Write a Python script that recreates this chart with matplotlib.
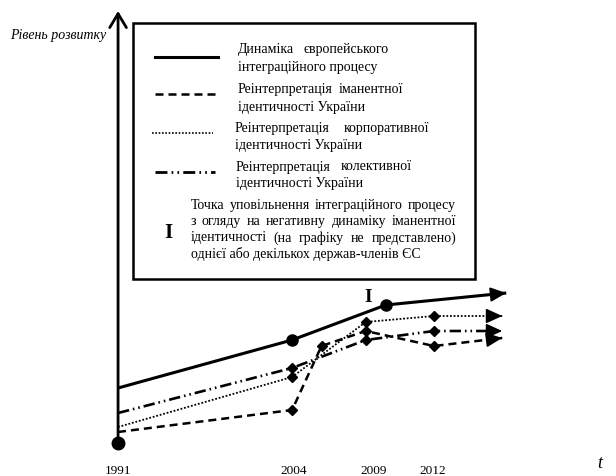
import matplotlib
matplotlib.use('Agg')
import matplotlib.pyplot as plt
from matplotlib.lines import Line2D
from matplotlib.patches import Rectangle

plt.rcParams['font.family'] = ['Liberation Serif', 'DejaVu Serif']

W, H = 616, 477

# time in conventional units (1991 = 0), level in conventional units
tick_pos = [0, 13.1, 19.1, 23.5]
tick_labels = ['1991', '2004', '2009', '2012']

eu_t = [0, 13.0, 20.0, 29.0]
eu_v = [5.5, 10.3, 13.8, 15.0]

imm_t = [0, 13.0, 15.2, 18.5, 23.6, 28.7]
imm_v = [1.1, 3.3, 9.7, 11.2, 9.7, 10.5]

corp_t = [0, 13.0, 18.5, 23.6, 28.7]
corp_v = [1.6, 6.6, 12.1, 12.7, 12.7]

coll_t = [0, 13.0, 18.5, 23.6, 28.7]
coll_v = [3.0, 7.5, 10.3, 11.2, 11.2]

slow_t, slow_v = 18.7, 14.6   # position of the "I" mark

fig = plt.figure(figsize=(W / 100, H / 100), dpi=100)
ax = fig.add_axes([0, 0, 1, 1])
ax.set_xlim(-8.82, 37.2)
ax.set_ylim(-3.3, 44.4)
ax.axis('off')

dash = (0, (3.2, 2.0))
dotted = (0, (1, 1))
dashdot = (0, (4.3, 1.5, 0.6, 1.5, 0.6, 1.5))

styles = [
    (eu_t, eu_v, '-', 2.2, 'o', 8),
    (imm_t, imm_v, dash, 1.8, 'D', 5.5),
    (corp_t, corp_v, dotted, 1.3, 'D', 5.5),
    (coll_t, coll_v, dashdot, 1.9, 'D', 5.5),
]
for t, v, ls, lw, mk, ms in styles:
    ax.plot(t, v, color='black', linestyle=ls, lw=lw, marker=mk, ms=ms,
            markevery=slice(1, -1), solid_capstyle='butt')
    # arrow head at the end of each line
    dt, dv = t[-1] - t[-2], v[-1] - v[-2]
    k = 1.0 / (dt ** 2 + (dv * 1.338) ** 2) ** 0.5
    ax.annotate('', xy=(t[-1], v[-1]), xytext=(t[-1] - dt * k, v[-1] - dv * k),
                arrowprops=dict(arrowstyle='-|>,head_length=0.7,head_width=0.32',
                                color='black', lw=1.2, mutation_scale=14,
                                shrinkA=0, shrinkB=0))

# origin point
ax.plot([0], [0], 'o', color='black', ms=9, zorder=5)

# axes with open arrows
ax.annotate('', xy=(0, 43.2), xytext=(0, 0),
            arrowprops=dict(arrowstyle='->,head_length=0.5,head_width=0.3',
                            color='black', lw=2, mutation_scale=20,
                            shrinkA=0, shrinkB=0))
ax.annotate('', xy=(37.5, 0), xytext=(0, 0),
            arrowprops=dict(arrowstyle='->,head_length=0.5,head_width=0.3',
                            color='black', lw=2, mutation_scale=20,
                            shrinkA=0, shrinkB=0))

for p, lab in zip(tick_pos, tick_labels):
    ax.text(p, -2.7, lab, ha='center', va='center', fontsize=9.5)

ax.text(slow_t, slow_v, 'I', ha='center', va='center', fontsize=14, fontweight='bold')
ax.text(36.0, -2.0, 't', ha='center', va='center', fontsize=13, style='italic')

fig.text(106 / W, 1 - 35 / H, 'Рівень розвитку', ha='right', va='center',
         fontsize=10, style='italic')

# legend box
fig.add_artist(Rectangle((133 / W, 1 - 280 / H), (475 - 133) / W, (280 - 24) / H,
                         transform=fig.transFigure, fill=False, lw=1.8, color='black'))

r = fig.canvas.get_renderer()


def put(text, x, y, x1=None, size=10):
    words = text.split()
    if x1 is None:
        fig.text(x / W, 1 - y / H, text, va='center', fontsize=size)
        return
    arts = [fig.text(0, 1 - y / H, w, va='center', fontsize=size) for w in words]
    widths = [a.get_window_extent(r).width for a in arts]
    gap = (x1 - x - sum(widths)) / (len(words) - 1)
    xx = x
    for a, w in zip(arts, widths):
        a.set_x(xx / W)
        xx += w + gap


leg_lines = [('-', 2.2, 155, 218, 58), (dash, 1.8, 155, 218, 95),
             (dotted, 1.2, 152, 213, 134), (dashdot, 2.0, 155, 215, 173)]
for ls, lw, x0, x1, y in leg_lines:
    fig.add_artist(Line2D([x0 / W, x1 / W], [1 - y / H] * 2, transform=fig.transFigure,
                          color='black', linestyle=ls, lw=lw))

put('Динаміка європейського', 238, 50, 389)
put('інтеграційного процесу', 238, 67)
put('Реінтерпретація іманентної', 238, 90, 403)
put('ідентичності України', 238, 107)
put('Реінтерпретація корпоративної', 235, 129, 429)
put('ідентичності України', 235, 145)
put('Реінтерпретація колективної', 236, 167, 412)
put('ідентичності України', 236, 183)
put('Точка уповільнення інтеграційного процесу', 191, 206, 456)
put('з огляду на негативну динаміку іманентної', 191, 222, 456)
put('ідентичності (на графіку не представлено)', 191, 238, 456)
put('однієї або декількох держав-членів ЄС', 191, 254)
fig.text(168 / W, 1 - 233 / H, 'I', ha='center', va='center', fontsize=15, fontweight='bold')

fig.savefig('out.png', dpi=100)
